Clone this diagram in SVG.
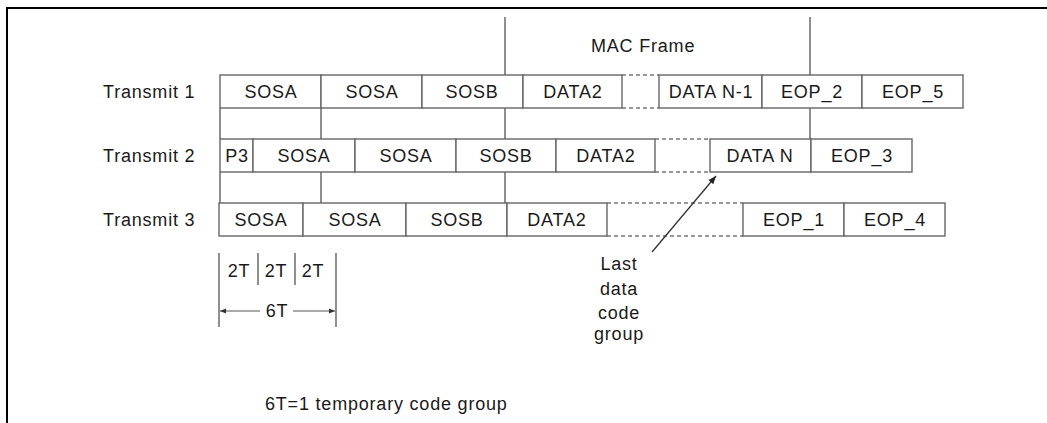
<svg xmlns="http://www.w3.org/2000/svg" width="1047" height="423" viewBox="0 0 1047 423">
<style>
text{font-family:"Liberation Sans",Arial,sans-serif;font-size:18px;fill:#1a1a1a;letter-spacing:0.8px}
.c{text-anchor:middle}
.box{fill:#fff;stroke:#666;stroke-width:1.4}
.ln{stroke:#555;stroke-width:1.3;fill:none}
.dash{stroke:#777;stroke-width:1.3;stroke-dasharray:4 3;fill:none}
</style>
<defs>
<marker id="ah" viewBox="0 0 10 10" refX="10" refY="5" markerWidth="8" markerHeight="8" markerUnits="userSpaceOnUse" orient="auto">
<path d="M0,1 L10,5 L0,9 z" fill="#222"/>
</marker>
<marker id="ahs" viewBox="0 0 10 10" refX="10" refY="5" markerWidth="7" markerHeight="6" markerUnits="userSpaceOnUse" orient="auto">
<path d="M0,1 L10,5 L0,9 z" fill="#333"/>
</marker>
</defs>
<rect width="1047" height="423" fill="#fff"/>
<g id="frame">
<path d="M7,423 V8 H1047" fill="none" stroke="#000" stroke-width="2"/>
</g>
<g id="labels">
<text x="103" y="98">Transmit 1</text>
<text x="103" y="162">Transmit 2</text>
<text x="103" y="226">Transmit 3</text>
<text x="591" y="52">MAC Frame</text>
</g>
<g id="connectors">
<path class="ln" d="M505,17 V75 M505,108 V139 M505,172 V203"/>
<path class="ln" d="M810,17 V75 M810,108 V139"/>
<path class="ln" d="M321,108 V139 M321,172 V203"/>
<path class="ln" d="M220,108 V139 M220,172 V203"/>
<path class="dash" d="M622,75 H659 M622,108 H659"/>
<path class="dash" d="M655,139 H710 M655,172 H710"/>
<path class="dash" d="M607,203 H743 M607,236 H743"/>
<line x1="652" y1="252" x2="716" y2="176" stroke="#333" stroke-width="1.3" marker-end="url(#ah)"/>
</g>
<g id="row1">
<rect class="box" x="220" y="75" width="101" height="33"/><text class="c" x="271" y="98">SOSA</text>
<rect class="box" x="321" y="75" width="101" height="33"/><text class="c" x="372" y="98">SOSA</text>
<rect class="box" x="422" y="75" width="101" height="33"/><text class="c" x="472" y="98">SOSB</text>
<rect class="box" x="523" y="75" width="99" height="33"/><text class="c" x="573" y="98">DATA2</text>
<rect class="box" x="659" y="75" width="103" height="33"/><text class="c" x="711" y="98">DATA N-1</text>
<rect class="box" x="762" y="75" width="100" height="33"/><text class="c" x="812" y="98">EOP_2</text>
<rect class="box" x="862" y="75" width="101" height="33"/><text class="c" x="913" y="98">EOP_5</text>
</g>
<g id="row2">
<rect class="box" x="220" y="139" width="33" height="33"/><text class="c" x="237" y="162">P3</text>
<rect class="box" x="253" y="139" width="102" height="33"/><text class="c" x="304" y="162">SOSA</text>
<rect class="box" x="355" y="139" width="101" height="33"/><text class="c" x="406" y="162">SOSA</text>
<rect class="box" x="456" y="139" width="100" height="33"/><text class="c" x="506" y="162">SOSB</text>
<rect class="box" x="556" y="139" width="99" height="33"/><text class="c" x="606" y="162">DATA2</text>
<rect class="box" x="710" y="139" width="101" height="33"/><text class="c" x="760" y="162">DATA N</text>
<rect class="box" x="811" y="139" width="101" height="33"/><text class="c" x="862" y="162">EOP_3</text>
</g>
<g id="row3">
<rect class="box" x="219" y="203" width="84" height="33"/><text class="c" x="261" y="226">SOSA</text>
<rect class="box" x="303" y="203" width="103" height="33"/><text class="c" x="355" y="226">SOSA</text>
<rect class="box" x="406" y="203" width="101" height="33"/><text class="c" x="457" y="226">SOSB</text>
<rect class="box" x="507" y="203" width="100" height="33"/><text class="c" x="557" y="226">DATA2</text>
<rect class="box" x="743" y="203" width="101" height="33"/><text class="c" x="794" y="226">EOP_1</text>
<rect class="box" x="844" y="203" width="101" height="33"/><text class="c" x="895" y="226">EOP_4</text>
</g>
<g id="last-data-note">
<text class="c" x="619" y="270">Last</text>
<text class="c" x="619" y="295">data</text>
<text class="c" x="619" y="319">code</text>
<text class="c" x="619" y="340">group</text>
</g>
<g id="timing">
<path class="ln" d="M219,253 V327 M258,253 V285 M295,253 V285 M336,253 V327"/>
<line x1="260" y1="311" x2="220" y2="311" stroke="#555" stroke-width="1.2" marker-end="url(#ahs)"/>
<line x1="293" y1="311" x2="335" y2="311" stroke="#555" stroke-width="1.2" marker-end="url(#ahs)"/>
<text class="c" x="239" y="277">2T</text>
<text class="c" x="276" y="277">2T</text>
<text class="c" x="313" y="277">2T</text>
<text class="c" x="277" y="317">6T</text>
<text x="265" y="410">6T=1 temporary code group</text>
</g>
</svg>
